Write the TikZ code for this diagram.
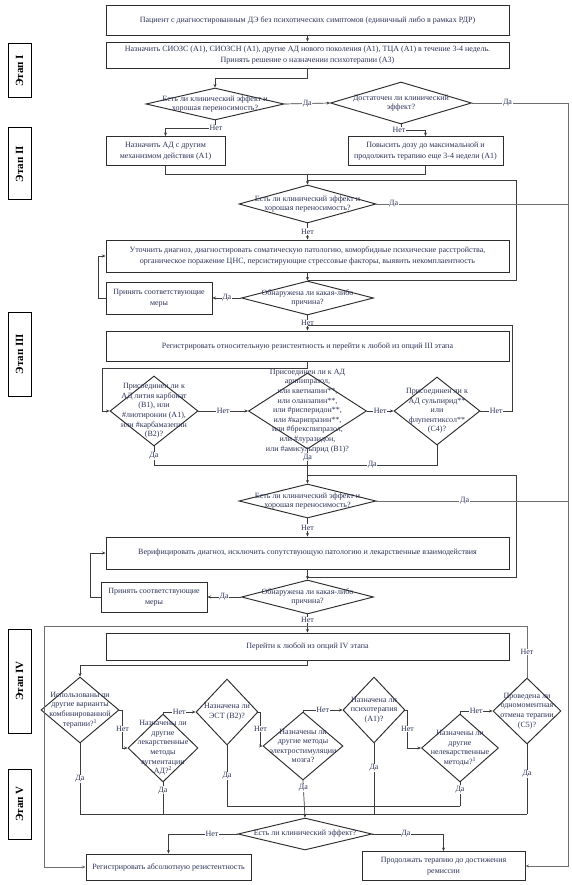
\documentclass[tikz,border=0pt]{standalone}
\usepackage{fontspec}
\setmainfont{Liberation Serif}
\usetikzlibrary{shapes.geometric,arrows.meta}
\definecolor{txt}{RGB}{45,52,88}
\definecolor{edge}{RGB}{45,45,45}
\definecolor{lin}{RGB}{60,60,60}
\definecolor{lgray}{RGB}{110,110,110}
\begin{document}
\begin{tikzpicture}[x=1pt,y=-1pt]
\tikzset{
 bx/.style={draw=edge, line width=0.95pt, fill=white, align=center, inner sep=1pt, text=txt, font=\fontsize{8}{10.5}\selectfont},
 dm/.style={draw=edge, line width=0.95pt, diamond, inner sep=0pt, fill=white},
 dt/.style={align=center, inner sep=0pt, text=txt, font=\fontsize{8}{9.6}\selectfont},
 lb/.style={fill=white, inner sep=0.6pt, text=txt, font=\fontsize{8}{9}\selectfont},
 cn/.style={draw=lin, line width=0.7pt},
 gl/.style={draw=lgray, line width=0.8pt},
 ar/.style={cn, -{Stealth[length=3.5pt,width=3pt]}},
 stg/.style={draw=black, line width=1pt, rotate=90, inner sep=0pt, text=black, font=\fontsize{11}{11}\selectfont\bfseries},
}
\useasboundingbox (0,0) rectangle (572,885);
\fill[white] (0,0) rectangle (572,885);
\coordinate (R) at (568,0);
\coordinate (Rl) at (516,0);
\coordinate (Rk) at (512,0);

% stage labels
\node[stg, minimum width=54pt, minimum height=23pt] (s1) at (19.5,71) {Этап I};
\node[stg, minimum width=72pt, minimum height=23pt] (s2) at (19.5,164) {Этап II};
\node[stg, minimum width=84pt, minimum height=23pt] (s3) at (19.5,354) {Этап III};
\node[stg, minimum width=104pt, minimum height=23pt] (s4) at (19.5,681) {Этап IV};
\node[stg, minimum width=70pt, minimum height=23pt] (s5) at (19.5,804) {Этап V};

% Stage I
\node[bx, minimum width=403pt, minimum height=30pt] (b1) at (307.5,20) {Пациент с диагностированным ДЭ без психотических симптомов (единичный либо в рамках РДР)};
\node[bx, minimum width=403pt, minimum height=26pt] (b2) at (307.5,55) {Назначить СИОЗС (А1), СИОЗСН (А1), другие АД нового поколения (А1), ТЦА (А1) в течение 3-4 недель.\\Принять решение о назначении психотерапии (А3)};
\node[dm, minimum width=138pt, minimum height=32pt] (d1) at (215,104) {};
\node[dt] (d1t) at (d1) {Есть ли клинический эффект и\\хорошая переносимость?};
\node[dm, minimum width=141pt, minimum height=42pt] (d2) at (401,103) {};
\node[dt] (d2t) at (d2) {Достаточен ли клинический\\эффект?};

% Stage II
\node[bx, minimum width=119pt, minimum height=29pt] (b3) at (165.5,151) {Назначить АД с другим\\механизмом действия (А1)};
\node[bx, minimum width=155pt, minimum height=29pt] (b4) at (425.5,151) {Повысить дозу до максимальной и\\продолжить терапию еще 3-4 недели (А1)};
\node[dm, minimum width=137pt, minimum height=38pt] (d3) at (307.5,204) {};
\node[dt] (d3t) at (d3) {Есть ли клинический эффект и\\хорошая переносимость?};
\node[bx, minimum width=403pt, minimum height=32pt] (b5) at (307.5,256) {Уточнить диагноз, диагностировать соматическую патологию, коморбидные психические расстройства,\\органическое поражение ЦНС, персистирующие стрессовые факторы, выявить некомплаентность};
\node[dm, minimum width=132pt, minimum height=34pt] (d4) at (307.5,298) {};
\node[dt] (d4t) at (d4) {Обнаружена ли какая-либо\\причина?};
\node[bx, minimum width=106pt, minimum height=32pt] (b6) at (159,298) {Принять соответствующие\\меры};

% Stage III
\node[bx, minimum width=403pt, minimum height=30pt] (b7) at (307.5,346) {Регистрировать относительную резистентность и перейти к любой из опций III этапа};
\node[dm, minimum width=88pt, minimum height=70pt] (B1) at (154,411) {};
\node[dt] (B1t) at (B1) {Присоединен ли к\\АД лития карбонат\\(В1), или\\\#лиотиронин (А1),\\или \#карбамазепин\\(В2)?};
\node[dm, minimum width=118pt, minimum height=76pt] (BG) at (307.5,411) {};
\node[dt] (BGt) at (BG) {Присоединен ли к АД\\арипипразол,\\или кветиапин**,\\или оланзапин**,\\или \#рисперидон**,\\или \#карипразин**,\\или \#брекспипразол,\\или \#луразидон,\\или \#амисульприд (В1)?};
\node[dm, minimum width=86pt, minimum height=68pt] (C4) at (437,411) {};
\node[dt] (C4t) at (C4) {Присоединен ли к\\АД сульпирид**\\или\\флупентиксол**\\(С4)?};
\node[dm, minimum width=137pt, minimum height=34pt] (d5) at (307.5,501) {};
\node[dt] (d5t) at (d5) {Есть ли клинический эффект и\\хорошая переносимость?};
\node[bx, minimum width=403pt, minimum height=32pt] (b8) at (307.5,553) {Верифицировать диагноз, исключить сопутствующую патологию и лекарственные взаимодействия};
\node[dm, minimum width=132pt, minimum height=34pt] (d6) at (307.5,597) {};
\node[dt] (d6t) at (d6) {Обнаружена ли какая-либо\\причина?};
\node[bx, minimum width=106pt, minimum height=30pt] (b9) at (154,597) {Принять соответствующие\\меры};

% Stage IV
\node[bx, minimum width=403pt, minimum height=27pt] (b10) at (307.5,646.5) {Перейти к любой из опций IV этапа};
\node[dm, minimum width=78pt, minimum height=66pt] (D1) at (80,710) {};
\node[dt] (D1t) at (D1) {Использованы ли\\другие варианты\\комбинированной\\терапии?\textsuperscript{1}};
\node[dm, minimum width=70pt, minimum height=68pt] (D2) at (163,748) {};
\node[dt] (D2t) at (D2) {Назначены ли\\другие\\лекарственные\\методы\\аугментации\\АД?\textsuperscript{2}};
\node[dm, minimum width=62pt, minimum height=66pt] (D3) at (227,712) {};
\node[dt] (D3t) at (D3) {Назначена ли\\ЭСТ (В2)?};
\node[dm, minimum width=80pt, minimum height=68pt] (D4) at (303,746) {};
\node[dt] (D4t) at (D4) {Назначены ли\\другие методы\\электростимуляции\\мозга?};
\node[dm, minimum width=62pt, minimum height=66pt] (D5) at (374,710) {};
\node[dt] (D5t) at (D5) {Назначена ли\\психотерапия\\(А1)?};
\node[dm, minimum width=77pt, minimum height=68pt] (D6) at (460,748) {};
\node[dt] (D6t) at (D6) {Назначены ли\\другие\\нелекарственные\\методы?\textsuperscript{1}};
\node[dm, minimum width=68pt, minimum height=66pt] (C5) at (527,711) {};
\node[dt] (C5t) at (C5) {Проведена ли\\одномоментная\\отмена терапии\\(С5)?};

% Stage V
\node[dm, minimum width=134pt, minimum height=32pt] (d7) at (305,834) {};
\node[dt] (d7t) at (d7) {Есть ли клинический эффект?};
\node[bx, minimum width=165pt, minimum height=26pt] (b13) at (168.5,867) {Регистрировать абсолютную резистентность};
\node[bx, minimum width=163pt, minimum height=29pt] (b14) at (443.5,866) {Продолжать терапию до достижения\\ремиссии};

% coordinates
\coordinate (Ma) at (307.5,174);
\coordinate (L1a) at (307.5,180);
\coordinate (L1b) at (307.5,280);
\coordinate (J1) at (307.5,325);
\coordinate (M3) at (307.5,465);
\coordinate (L2a) at (307.5,475);
\coordinate (L2b) at (307.5,577);
\coordinate (F) at (44,626);
\coordinate (Y1) at (0,806);
\coordinate (Y2) at (0,814);

% connectors stage I-II
\draw[ar] (b1) -- (b2);
\draw[ar] (b2.south) -- ++(0,10) -| (d1.north);
\draw[ar] (d1.east) -- node[lb]{Да} (d2.west);
\draw[gl, -{Stealth[length=3.5pt,width=3pt]}] (d2.east) -- node[lb,pos=0.37]{Да} (d2.east -| R) |- (b14.east);
\draw[ar] (d1.south) -- ++(0,8) -| (b3.north);
\node[lb] (n1) at (216,128) {Нет};
\draw[ar] (d2.south) -- ++(0,6) -| (b4.north);
\node[lb] (n2) at (399,130) {Нет};
\draw[cn] (b3.south) |- (Ma);
\draw[cn] (b4.south) |- (Ma);
\draw[ar] (Ma) -- (d3.north);
\draw[cn] (L1a) -- (L1a -| Rl) |- (L1b);
\draw[gl] (d3.east) -- node[lb,pos=0.09]{Да} (d3.east -| R);
\draw[ar] (d3.south) -- node[lb]{Нет} (b5.north);
\draw[ar] (b5.south) -- (d4.north);
\draw[ar] (d4.west) -- node[lb]{Да} (b6.east);
\draw[ar] (b6.west) -- ++(-7,0) |- (b5.west);
\draw[ar] (d4.south) -- node[lb]{Нет} (b7.north);

% stage III
\draw[cn] (C4.east) -- node[lb]{Нет} (C4.east -| Rk) |- (J1);
\draw[ar] (b7.south) -- ++(0,7) -| ([xshift=-7pt]B1.west) -- (B1.west);
\draw[ar] (B1.east) -- node[lb]{Нет} (BG.west);
\draw[ar] (BG.east) -- node[lb]{Нет} (C4.west);
\draw[cn] (B1.south) -- node[lb,pos=0.5]{Да} (B1.south |- M3) -- (M3);
\draw[cn] (BG.south) -- node[lb]{Да} (M3);
\draw[cn] (C4.south) |- node[lb,pos=0.75]{Да} (M3);
\draw[ar] (M3) -- (d5.north);
\draw[cn] (L2a) -- (L2a -| Rl) |- (L2b);
\draw[gl] (d5.east) -- node[lb,pos=0.46]{Да} (d5.east -| R);
\draw[ar] (d5.south) -- node[lb]{Нет} (b8.north);
\draw[ar] (b8.south) -- (d6.north);
\draw[ar] (d6.west) -- node[lb]{Да} (b9.east);
\draw[ar] (b9.west) -- ++(-10,0) |- (b8.west);
\draw[ar] (d6.south) -- node[lb,pos=0.3]{Нет} (b10.north);

% stage IV
\draw[gl, -{Stealth[length=3.5pt,width=3pt]}] (C5.north) -- node[lb]{Нет} (C5.north |- F) -- (F) |- (b13.west);
\draw[ar] (b10.south) -- ++(0,5) -| (D1.north);
\draw[ar] (D1.east) -- ++(3,0) |- node[lb,pos=0.25]{Нет} (D2.west);
\draw[ar] (D2.north) |- node[lb,pos=0.75]{Нет} (D3.west);
\draw[ar] (D3.east) -- ++(2,0) |- node[lb,pos=0.25]{Нет} (D4.west);
\draw[ar] (D4.north) |- node[lb,pos=0.75]{Нет} (D5.west);
\draw[ar] (D5.east) -- ++(2,0) |- node[lb,pos=0.25]{Нет} (D6.west);
\draw[ar] (D6.north) |- node[lb,pos=0.75]{Нет} (C5.west);

\draw[cn] (D1.south) -- node[lb]{Да} (D1.south |- Y2);
\draw[cn] (D2.south) -- node[lb,pos=0.25]{Да} (D2.south |- Y2);
\draw[cn] (D3.south) -- node[lb]{Да} (D3.south |- Y1);
\draw[ar] (D4.south) -- node[lb,pos=0.2]{Да} (d7.north);
\draw[cn] (D5.south) -- node[lb,pos=0.35]{Да} (D5.south |- Y2);
\draw[cn] (D6.south) -- node[lb,pos=0.3]{Да} (D6.south |- Y1);
\draw[cn] (C5.south) -- node[lb,pos=0.42]{Да} (C5.south |- Y2);
\draw[cn] (D3.south |- Y1) -- (D6.south |- Y1);
\draw[cn] (D1.south |- Y2) -- (C5.south |- Y2);

% stage V
\draw[ar] (d7.west) -- node[lb,pos=0.37]{Нет} (d7.west -| b13.north) -- (b13.north);
\draw[ar] (d7.east) -- node[lb,pos=0.47]{Да} (d7.east -| b14.north) -- (b14.north);
\end{tikzpicture}
\end{document}
